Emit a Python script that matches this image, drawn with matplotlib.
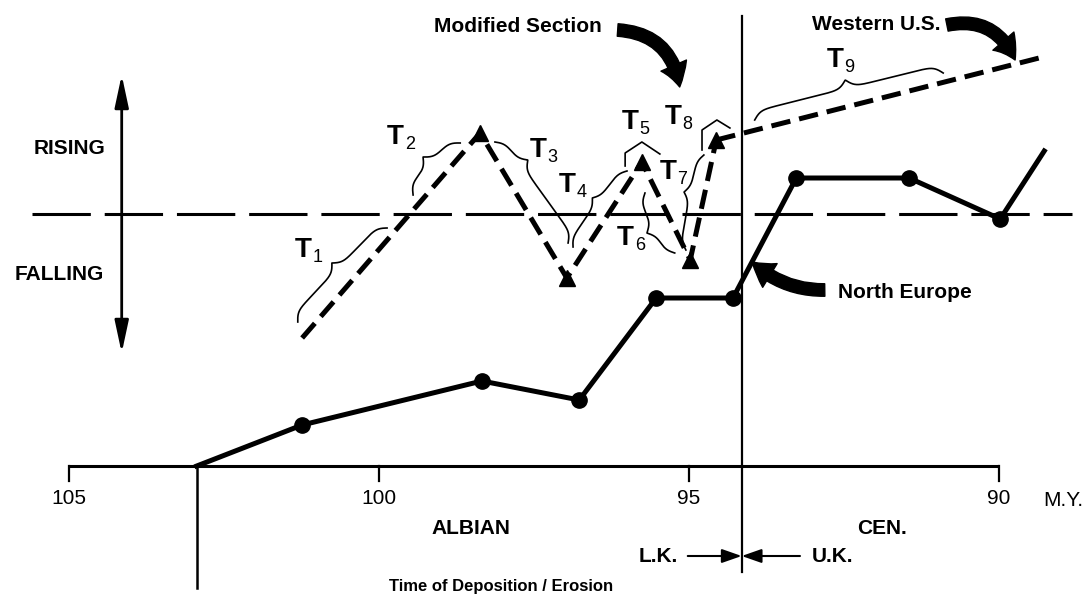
import numpy as np
import matplotlib.pyplot as plt
from matplotlib.patches import FancyArrowPatch

plt.rcParams['font.family'] = ['Liberation Sans', 'DejaVu Sans']
plt.rcParams['lines.scale_dashes'] = False

# relative sea level curves, x = time (M.Y.), y = relative level (arbitrary units)
mod_t = [101.24, 98.37, 96.97, 95.76, 94.98, 94.56]
mod_lvl = [12.8, 33.3, 18.8, 30.4, 20.6, 32.6]
wus_t = [94.56, 89.29]
wus_lvl = [32.6, 40.9]
ne_t = [102.94, 101.24, 98.34, 96.77, 95.53, 94.29, 93.27, 91.45, 89.98, 89.27]
ne_lvl = [0.0, 4.1, 8.5, 6.6, 16.8, 16.8, 28.8, 28.8, 24.7, 31.5]

xticks = [105, 100, 95, 90]
still_level = 25.2
lk_uk = 94.15

# T labels: position of the T, subscript
t_labels = [(101.23, 21.6, '1'), (99.74, 32.9, '2'), (97.44, 31.6, '3'),
            (96.97, 28.1, '4'), (95.95, 34.4, '5'), (96.03, 22.8, '6'),
            (95.34, 29.4, '7'), (95.26, 34.9, '8'), (92.65, 40.6, '9')]

# braces: end, tip, end
braces = [[(101.31, 14.4), (100.76, 20.3), (99.87, 23.8)],
          [(99.45, 27.1), (99.29, 30.9), (98.69, 32.3)],
          [(98.13, 32.4), (97.60, 30.6), (96.95, 22.3)],
          [(96.87, 21.9), (96.56, 26.8), (96.00, 29.5)],
          [(95.71, 27.3), (95.68, 23.3), (95.23, 21.3)],
          [(94.76, 31.1), (95.08, 27.4), (95.05, 21.6)],
          [(93.94, 34.6), (92.48, 38.6), (90.90, 39.3)]]
hats = [[(96.03, 30.0), (96.03, 31.3), (95.76, 32.4), (95.47, 31.2)],
        [(94.79, 31.6), (94.79, 33.6), (94.55, 34.6), (94.34, 33.8)]]

fig = plt.figure(figsize=(10.9, 5.96), dpi=100)
ax = fig.add_axes([0, 0, 1, 1])
ax.set_xlim(106.113, 88.532)
ax.set_ylim(-13.0, 46.6)
ax.axis('off')

# still stand reference line
ax.plot([105.6, 88.82], [still_level, still_level], color='black', lw=2.2,
        dashes=(42, 10), solid_capstyle='butt')

# rising / falling double arrow
ax.annotate('', xy=(104.15, 39.1), xytext=(104.15, 11.3),
            arrowprops=dict(arrowstyle='<|-|>,head_length=1.4,head_width=0.3',
                            mutation_scale=14, lw=2, color='black',
                            shrinkA=0, shrinkB=0))
ax.text(104.99, 31.8, 'RISING', ha='center', va='center', fontsize=15, weight='bold')
ax.text(105.16, 19.2, 'FALLING', ha='center', va='center', fontsize=15, weight='bold')

# time axis
ax.plot([xticks[0], xticks[-1]], [0, 0], color='black', lw=2.2, solid_capstyle='butt')
for t in xticks:
    ax.plot([t, t], [0, -1.5], color='black', lw=1.6)
    ax.text(t, -3.3, str(t), ha='center', va='center', fontsize=15)
ax.text(88.97, -3.4, 'M.Y.', ha='center', va='center', fontsize=15)
ax.text(98.52, -6.2, 'ALBIAN', ha='center', va='center', fontsize=15, weight='bold')
ax.text(91.89, -6.2, 'CEN.', ha='center', va='center', fontsize=15, weight='bold')
ax.text(98.03, -12.0, 'Time of Deposition / Erosion', ha='center', va='center',
        fontsize=12, weight='bold')

# vertical lines
ax.plot([ne_t[0], ne_t[0]], [0, -12.2], color='black', lw=1.8)
ax.plot([lk_uk, lk_uk], [45.0, -10.6], color='black', lw=1.6)

# L.K. / U.K. arrows
ax.text(95.5, -9.0, 'L.K.', ha='center', va='center', fontsize=15, weight='bold')
ax.text(92.68, -9.0, 'U.K.', ha='center', va='center', fontsize=15, weight='bold')
for start in (95.02, 93.21):
    ax.annotate('', xy=(lk_uk, -9.0), xytext=(start, -9.0),
                arrowprops=dict(arrowstyle='-|>,head_length=1.0,head_width=0.35',
                                mutation_scale=12, lw=1.5, color='black',
                                shrinkA=0, shrinkB=0))

# North Europe curve
ax.plot(ne_t, ne_lvl, color='black', lw=3.6, solid_joinstyle='round')
ax.plot(ne_t[1:-1], ne_lvl[1:-1], 'o', color='black', ms=11)

# Modified section and Western U.S. curves
ax.plot(mod_t, mod_lvl, color='black', lw=3.6, dashes=(14, 6.5))
ax.plot(mod_t[1:], mod_lvl[1:], '^', color='black', ms=11)
ax.plot(wus_t, wus_lvl, color='black', lw=3.6, dashes=(14, 6.5))


def brace(p1, tip, p2, w=4.0):
    a, c, b = ax.transData.transform([p1, tip, p2])
    d = b - a
    D = np.hypot(*d)
    uh = d / D
    n = np.array([-uh[1], uh[0]])
    U = (c - a) @ uh
    h = (c - a) @ n
    u = np.linspace(0, D, 500)
    sig = lambda z: 1 / (1 + np.exp(-z))
    v = np.where(u <= U,
                 h / 2 * (2 * sig(u / w) - 1) + h * sig((u - U) / w),
                 h / 2 * (2 * sig((D - u) / w) - 1) + h * sig((U - u) / w))
    pts = a + np.outer(u, uh) + np.outer(v, n)
    pts = ax.transData.inverted().transform(pts)
    ax.plot(pts[:, 0], pts[:, 1], color='black', lw=1.2)


for b in braces:
    brace(*b)
for hat in hats:
    xs, ys = zip(*hat)
    ax.plot(xs, ys, color='black', lw=1.2)

for t, lv, sub in t_labels:
    ax.text(t, lv, 'T', ha='center', va='center', fontsize=20, weight='bold')
    ax.annotate(sub, (t, lv), xytext=(10.5, -5.5), textcoords='offset points',
                ha='center', va='center', fontsize=13)

# curved callout arrows
arrow_kw = dict(arrowstyle='simple,head_width=2.0,head_length=1.6,tail_width=0.9',
                mutation_scale=10, color='black', shrinkA=0, shrinkB=0)
ax.text(97.76, 44.0, 'Modified Section', ha='center', va='center', fontsize=15, weight='bold')
ax.add_patch(FancyArrowPatch((96.15, 43.6), (95.15, 37.9),
                             connectionstyle='arc3,rad=-0.4', **arrow_kw))
ax.text(91.98, 44.1, 'Western U.S.', ha='center', va='center', fontsize=15, weight='bold')
ax.add_patch(FancyArrowPatch((90.84, 44.1), (89.74, 40.6),
                             connectionstyle='arc3,rad=-0.4', **arrow_kw))
ax.text(91.52, 17.3, 'North Europe', ha='center', va='center', fontsize=15, weight='bold')
ax.add_patch(FancyArrowPatch((92.81, 17.6), (93.98, 20.4),
                             connectionstyle='arc3,rad=-0.2', **arrow_kw))

fig.savefig('out.png', dpi=100)
